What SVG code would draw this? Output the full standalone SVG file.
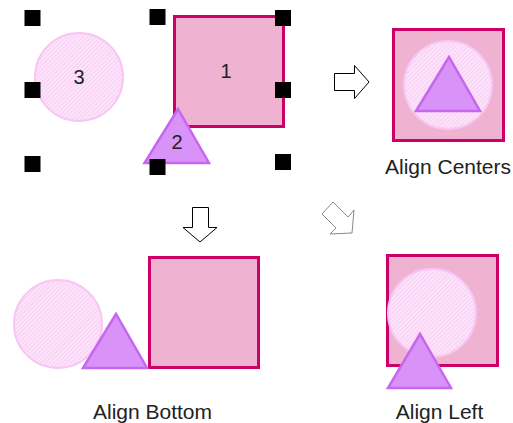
<svg xmlns="http://www.w3.org/2000/svg" width="513" height="423" viewBox="0 0 513 423">
<defs>
<pattern id="hatch" width="3" height="3" patternUnits="userSpaceOnUse" patternTransform="rotate(45)">
<rect width="3" height="3" fill="#FDEAFB"/>
<rect width="1.5" height="3" fill="#F9CFF5"/>
</pattern>
<style>
.sq{fill:#EFB3D1;stroke:#CC0066;stroke-width:3}
.ci{fill:url(#hatch);stroke:#F8C6F4;stroke-width:2}
.tr{fill:#D993F8;stroke:#C766EE;stroke-width:2.5;stroke-linejoin:miter}
.h{fill:#000}
.lbl{font-family:"Liberation Sans",Arial,sans-serif;font-size:21px;fill:#222;text-anchor:middle}
.num{font-family:"Liberation Sans",Arial,sans-serif;font-size:20px;fill:#222;text-anchor:middle}
.arr{fill:#fff;stroke:#000;stroke-width:1}
.arr2{fill:#fff;stroke:#888;stroke-width:1}
</style>
</defs>
<rect width="513" height="423" fill="#fff"/>

<g id="original">
<rect class="sq" x="174.5" y="16.5" width="109" height="110"/>
<circle class="ci" cx="79" cy="77" r="44"/>
<polygon class="tr" points="178,109 144.5,163 209,163"/>
<text class="num" x="226" y="78">1</text>
<text class="num" x="79" y="84">3</text>
<text class="num" x="177" y="149">2</text>
</g>

<g id="handles">
<rect class="h" x="24.5" y="10" width="16" height="16"/>
<rect class="h" x="24.5" y="82" width="16" height="16"/>
<rect class="h" x="24.5" y="156" width="16" height="16"/>
<rect class="h" x="149.5" y="9" width="16" height="16"/>
<rect class="h" x="149.5" y="159" width="16" height="16"/>
<rect class="h" x="275" y="10" width="16" height="16"/>
<rect class="h" x="275" y="82" width="16" height="16"/>
<rect class="h" x="275" y="154" width="16" height="16"/>
</g>

<g id="align-centers">
<rect class="sq" x="393.5" y="29.5" width="110" height="111"/>
<circle class="ci" cx="448" cy="85" r="44"/>
<polygon class="tr" points="449,57 416,111 480,111"/>
<text class="lbl" x="448" y="174">Align Centers</text>
</g>

<g id="align-bottom">
<rect class="sq" x="149.5" y="257.5" width="109" height="110"/>
<circle class="ci" cx="58" cy="324" r="44"/>
<polygon class="tr" points="116,314 83,368 147,368"/>
<text class="lbl" x="152.5" y="419">Align Bottom</text>
</g>

<g id="align-left">
<rect class="sq" x="387.5" y="255.5" width="110" height="110"/>
<circle class="ci" cx="432" cy="313" r="44"/>
<polygon class="tr" points="420,334 388,388 451,388"/>
<text class="lbl" x="439.5" y="419">Align Left</text>
</g>

<g id="connectors">
<polygon class="arr" points="334.5,73.5 354.5,73.5 354.5,65.5 369,82 354.5,98.5 354.5,90.5 334.5,90.5"/>
<polygon class="arr" points="192.5,207.5 208.5,207.5 208.5,227.5 217,227.5 200,242 183,227.5 192.5,227.5"/>
<polygon class="arr2" points="333,202 322,214 336,228 330,234 352,233 354,210 348,217"/>
</g>
</svg>
